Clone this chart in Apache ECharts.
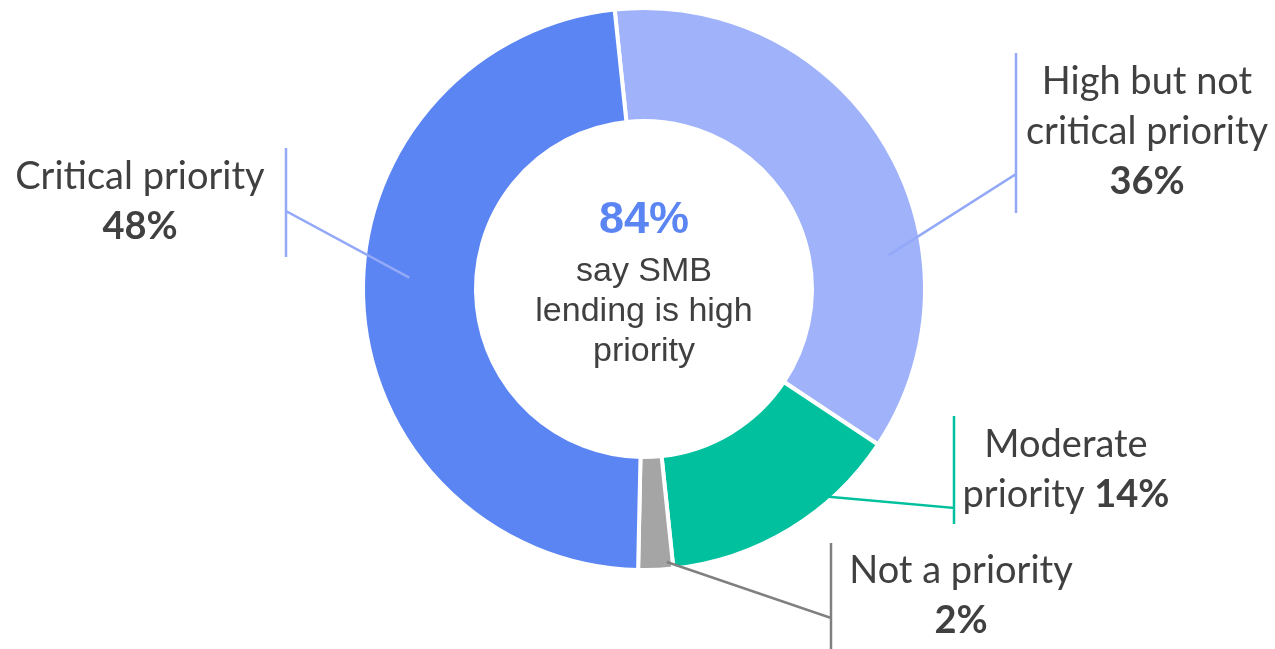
<!DOCTYPE html>
<html>
<head>
<meta charset="utf-8">
<script src="https://cdn.jsdelivr.net/npm/echarts@6/dist/echarts.min.js"></script>
<style>
  html, body { margin: 0; padding: 0; background: #ffffff; }
  #chart { width: 1275px; height: 649px; }
</style>
</head>
<body>
<div id="chart"></div>
<script>
// Survey shares, listed clockwise from the top of the ring
const categories = ['High but not critical priority', 'Moderate priority', 'Not a priority', 'Critical priority'];
const shares = [36, 14, 2, 48];
const highPriorityGroups = ['High but not critical priority', 'Critical priority'];
const centerCaption = 'say SMB\nlending is high\npriority';

// Styling
const sliceColors = ['#9FB2FA', '#00C09E', '#A5A5A5', '#5B85F3'];
const guideColors = ['#93A9F8', '#00C09E', '#808080', '#93A9F8'];
const textColor = '#404040';

// Ring geometry (pixels) and callout placement for each slice
const ringCenter = [644, 289];
const ringRadius = [168, 281];
const startAngle = 96;
const callouts = [
  { breakAfter: [3], valueInline: false, textX: 1147, textY: 132, barX: 1016, barTop: 53,  barBottom: 213, joinY: 174, along: 0.68, dist: 247 },
  { breakAfter: [1], valueInline: true,  textX: 1066, textY: 470, barX: 954,  barTop: 416, barBottom: 524, joinY: 508, along: 0.36, dist: 262 },
  { breakAfter: [],  valueInline: false, textX: 961,  textY: 596, barX: 831,  barTop: 543, barBottom: 649, joinY: 618, along: 0.17, dist: 274 },
  { breakAfter: [],  valueInline: false, textX: 140,  textY: 202, barX: 286,  barTop: 148, barBottom: 257, joinY: 211, along: 0.53, dist: 235 }
];

const total = shares.reduce((a, b) => a + b, 0);
const highPriorityShare = categories.reduce(
  (sum, name, i) => sum + (highPriorityGroups.includes(name) ? shares[i] : 0), 0);

// Point inside slice i, a fraction `along` of its sweep, `dist` px from the centre
function slicePoint(i, along, dist) {
  let before = 0;
  for (let k = 0; k < i; k++) before += shares[k];
  const a0 = startAngle - 360 * before / total;
  const sweep = 360 * shares[i] / total;
  const a = (a0 - along * sweep) * Math.PI / 180;
  return [ringCenter[0] + dist * Math.cos(a), ringCenter[1] - dist * Math.sin(a)];
}

function labelText(p) {
  const c = callouts[p.dataIndex];
  const words = p.name.split(' ');
  let out = '';
  words.forEach((w, k) => {
    out += w;
    if (k < words.length - 1) out += c.breakAfter.includes(k + 1) ? '\n' : ' ';
  });
  return out + (c.valueInline ? ' ' : '\n') + '{b|' + p.value + '%}';
}

const chart = echarts.init(document.getElementById('chart'), null, { renderer: 'canvas' });

chart.setOption({
  animation: false,
  backgroundColor: '#ffffff',
  series: [
    {
      // The coloured ring
      type: 'pie',
      z: 2,
      center: ringCenter,
      radius: ringRadius,
      startAngle: startAngle,
      clockwise: true,
      silent: true,
      itemStyle: { borderColor: '#ffffff', borderWidth: 4 },
      label: { show: false },
      labelLine: { show: false },
      data: categories.map((name, i) => ({
        name: name,
        value: shares[i],
        itemStyle: { color: sliceColors[i] }
      }))
    },
    {
      // Same slices, see-through, carrying the callouts so their leaders sit over the ring
      type: 'pie',
      z: 5,
      center: ringCenter,
      radius: ringRadius,
      startAngle: startAngle,
      clockwise: true,
      silent: true,
      avoidLabelOverlap: false,
      itemStyle: { color: 'rgba(0,0,0,0)', borderWidth: 0 },
      label: {
        show: true,
        position: 'outside',
        formatter: labelText,
        color: textColor,
        fontFamily: 'Lato',
        fontSize: 38,
        lineHeight: 50,
        align: 'center',
        rich: {
          b: { fontFamily: 'Lato', fontSize: 38, fontWeight: 'bold', color: textColor, lineHeight: 50 }
        }
      },
      labelLine: { show: true, smooth: false, lineStyle: { width: 2.5 } },
      labelLayout: function (params) {
        const i = params.dataIndex;
        const c = callouts[i];
        return {
          x: c.textX,
          y: c.textY,
          align: 'center',
          verticalAlign: 'middle',
          labelLinePoints: [
            slicePoint(i, c.along, c.dist),
            [c.barX, c.joinY],
            [c.barX, c.barTop],
            [c.barX, c.barBottom]
          ]
        };
      },
      data: categories.map((name, i) => ({
        name: name,
        value: shares[i],
        labelLine: { lineStyle: { color: guideColors[i], width: 2.5 } }
      }))
    }
  ],
  graphic: [
    {
      type: 'text',
      x: ringCenter[0],
      y: 221,
      style: {
        text: highPriorityShare + '%',
        fontFamily: '"Liberation Sans", Arial, sans-serif',
        fontSize: 45,
        fontWeight: 'bold',
        fill: '#5B85F3',
        align: 'center',
        verticalAlign: 'middle'
      }
    },
    {
      type: 'text',
      x: ringCenter[0],
      y: 312,
      style: {
        text: centerCaption,
        fontFamily: '"Liberation Sans", Arial, sans-serif',
        fontSize: 34,
        lineHeight: 40,
        fill: textColor,
        align: 'center',
        verticalAlign: 'middle'
      }
    }
  ]
});
</script>
</body>
</html>
